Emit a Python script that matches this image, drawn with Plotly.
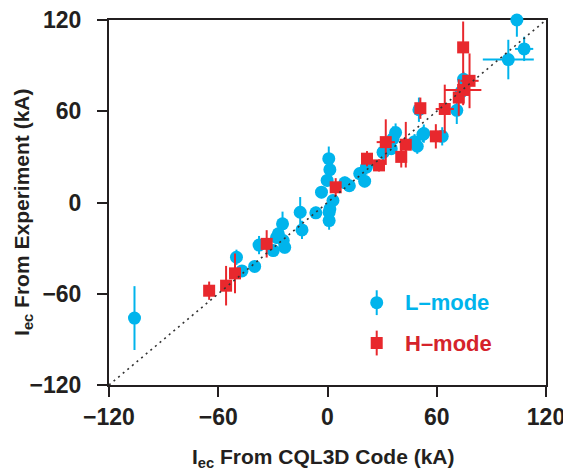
import plotly.graph_objects as go

# L-mode data (kA)
l_x = [-106, -50, -47, -40, -37.6, -28, -24.7, -23.5, -29.8, -27, -24.3,
       -15, -14, -6.4, -3.3, 0.9, 0.9, 1.3, 3, 9.5, 12, 0.7, 1.3, -0.2,
       17.7, 20.4, 21.4, 30.5, 36, 37.4, 30.8, 35, 47.8, 49.3, 52.4, 50.2,
       52.9, 63, 71, 73.4, 74.7, 99.3, 104, 108]
l_y = [-76, -36, -45, -42, -28, -23, -14, -29.5, -31.6, -20.6, -25,
       -6.4, -18, -6.8, 6.8, -6.4, -11.9, -4.2, 1.3, 13, 11, 28.8, 21.6, 14.5,
       19, 14, 23.3, 33, 42, 46, 33.2, 35.4, 40, 37, 44.8, 61,
       45.3, 43.5, 60.6, 72.7, 81, 94, 120, 101]
l_yerr = [21, 5, 3, 3, 6, 4, 8, 4, 4, 4, 4,
          10, 6, 4, 4, 4, 6, 4, 3, 4, 4, 8, 4, 4,
          4, 4, 5, 5, 8, 6, 5, 4, 5, 5, 5, 8,
          6, 6, 9, 5, 5, 13, 11, 8]
l_xerr = [0, 0, 0, 0, 0, 0, 0, 0, 0, 0, 0,
          0, 0, 0, 0, 0, 0, 0, 0, 0, 0, 0, 0, 0,
          0, 0, 0, 0, 0, 0, 0, 0, 0, 0, 0, 0,
          0, 0, 0, 0, 0, 14, 0, 5]

# H-mode data (kA)
h_x = [-65, -55.7, -50.8, -33.4, 4.5, 21.7, 28.3, 32, 40.5, 43, 51,
       59.5, 64.4, 72.1, 74.5, 78, 74.5]
h_y = [-58, -54.7, -46.6, -27.2, 10, 28.8, 24.4, 39.7, 30, 38, 62,
       43.5, 61.5, 69, 74, 80, 102]
h_yerr = [6, 13, 13, 9, 6, 5, 4, 15, 7, 15, 7,
          8, 16, 12, 10, 18, 17]
h_xerr = [0, 0, 0, 0, 0, 0, 0, 5, 0, 0, 0,
          0, 5, 0, 10, 5, 0]

ticks = [-120, -60, 0, 60, 120]
diag = [-120, 120]

BLUE = "#00b4ec"
RED = "#e8282d"
RED_TXT = "#d5232b"
DARK = "#231f20"
FONT = "Liberation Sans, Arial, sans-serif"

fig = go.Figure()

fig.add_trace(go.Scatter(
    x=l_x, y=l_y, mode="markers", cliponaxis=False,
    marker=dict(symbol="circle", size=13, color=BLUE, line=dict(width=0)),
    error_y=dict(type="data", array=l_yerr, color=BLUE, thickness=2, width=0),
    error_x=dict(type="data", array=l_xerr, color=BLUE, thickness=2, width=0),
    showlegend=False))

fig.add_trace(go.Scatter(
    x=h_x, y=h_y, mode="markers", cliponaxis=False,
    marker=dict(symbol="square", size=12, color=RED, line=dict(width=0)),
    error_y=dict(type="data", array=h_yerr, color=RED, thickness=2, width=0),
    error_x=dict(type="data", array=h_xerr, color=RED, thickness=2, width=0),
    showlegend=False))

fig.add_trace(go.Scatter(
    x=diag, y=diag, mode="lines",
    line=dict(color="#333333", width=1.6, dash="2px,4px"),
    showlegend=False))

# legend glyphs on an overlay paper-like axis
fig.add_trace(go.Scatter(
    x=[0.6126], y=[0.2255], xaxis="x2", yaxis="y2", mode="markers",
    marker=dict(symbol="circle", size=13, color=BLUE),
    error_y=dict(type="constant", value=0.034, color=BLUE, thickness=2, width=0),
    showlegend=False))
fig.add_trace(go.Scatter(
    x=[0.6126], y=[0.115], xaxis="x2", yaxis="y2", mode="markers",
    marker=dict(symbol="square", size=12, color=RED),
    error_y=dict(type="constant", value=0.034, color=RED, thickness=2, width=0),
    showlegend=False))

fig.add_annotation(x=0.672, y=0.2255, xref="paper", yref="paper",
                   text="L–mode", showarrow=False, xanchor="left", yanchor="middle",
                   font=dict(family=FONT, size=22, color=BLUE, weight="bold"))
fig.add_annotation(x=0.672, y=0.115, xref="paper", yref="paper",
                   text="H–mode", showarrow=False, xanchor="left", yanchor="middle",
                   font=dict(family=FONT, size=22, color=RED_TXT, weight="bold"))

# axis titles
TITLE_FONT = dict(family=FONT, size=21, color=DARK, weight="bold")
fig.add_annotation(x=0.491, y=-0.159, xref="paper", yref="paper",
                   text="I<sub>ec</sub> From CQL3D Code (kA)", showarrow=False,
                   xanchor="center", yanchor="top", font=TITLE_FONT)
fig.add_annotation(x=-0.197, y=0.474, xref="paper", yref="paper",
                   text="I<sub>ec</sub> From Experiment (kA)", showarrow=False,
                   textangle=-90, xanchor="center", yanchor="middle", font=TITLE_FONT)

axis_common = dict(
    range=[-120, 120], tickvals=ticks, ticks="outside", ticklen=10, tickwidth=2,
    tickcolor=DARK, showline=True, linewidth=2, linecolor=DARK, mirror=True,
    showgrid=False, zeroline=False, ticklabeloverflow="allow", automargin=False,
    layer="below traces",
    tickfont=dict(family=FONT, size=23, color=DARK, weight="bold"),
)

fig.update_layout(
    width=563, height=471,
    margin=dict(l=109, r=17, t=20, b=86, autoexpand=False),
    paper_bgcolor="white", plot_bgcolor="white",
    xaxis=dict(**axis_common),
    yaxis=dict(**axis_common, ticklabelstandoff=11),
    xaxis2=dict(overlaying="x", range=[0, 1], visible=False),
    yaxis2=dict(overlaying="y", range=[0, 1], visible=False),
)

fig.write_html("out.html")
